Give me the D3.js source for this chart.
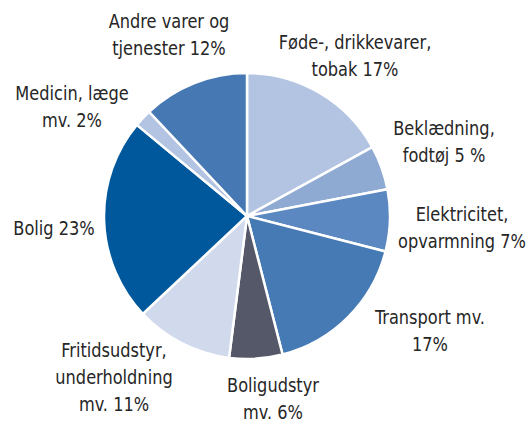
<!DOCTYPE html>
<html>
<head>
<meta charset="utf-8">
<script src="https://cdn.jsdelivr.net/npm/d3@7"></script>
<style>
  body { margin: 0; background: #fff; }
  svg text { font-family: "DejaVu Sans Condensed", "DejaVu Sans", sans-serif; font-size: 20px; fill: #262626; }
</style>
</head>
<body>
<div id="chart"></div>
<script>
// categories, clockwise from 12 o'clock
const categories = [
  ["Føde-, drikkevarer,", "tobak 17%"],
  ["Beklædning,", "fodtøj 5 %"],
  ["Elektricitet,", "opvarmning 7%"],
  ["Transport mv.", "17%"],
  ["Boligudstyr", "mv. 6%"],
  ["Fritidsudstyr,", "underholdning", "mv. 11%"],
  ["Bolig 23%"],
  ["Medicin, læge", "mv. 2%"],
  ["Andre varer og", "tjenester 12%"]
];
const shares = [17, 5, 7, 17, 6, 11, 23, 2, 12];
const colors = ["#b2c4e1", "#8eaad3", "#5b88c0", "#457ab4", "#545868", "#d0daec", "#00589c", "#b2c4e1", "#4679b3"];

// where each label block is placed (center x, first baseline y)
const labelPos = [[355, 49], [444, 135], [462, 221], [430, 324], [273, 392], [114, 357], [54, 235], [72, 100], [169, 28]];

const width = 528, height = 424;
const cx = 247, cy = 216, radius = 143;
const lineHeight = 27;
const squeeze = 0.9; // narrow the font a little, the original uses a condensed face

const svg = d3.select("#chart")
  .append("svg")
  .attr("width", width)
  .attr("height", height);

const pie = d3.pie().sort(null).value(d => d);
const arc = d3.arc().innerRadius(0).outerRadius(radius);

svg.append("g")
  .attr("transform", `translate(${cx},${cy})`)
  .selectAll("path")
  .data(pie(shares))
  .join("path")
  .attr("d", arc)
  .attr("fill", (d, i) => colors[i])
  .attr("stroke", "#fff")
  .attr("stroke-width", 2.5)
  .attr("stroke-linejoin", "round");

const labels = svg.append("g")
  .selectAll("text")
  .data(categories)
  .join("text")
  .attr("text-anchor", "middle")
  .attr("transform", (d, i) => `translate(${labelPos[i][0]},${labelPos[i][1]}) scale(${squeeze},1)`);

labels.selectAll("tspan")
  .data(d => d)
  .join("tspan")
  .attr("x", 0)
  .attr("dy", (d, j) => j === 0 ? 0 : lineHeight)
  .text(d => d);
</script>
</body>
</html>
